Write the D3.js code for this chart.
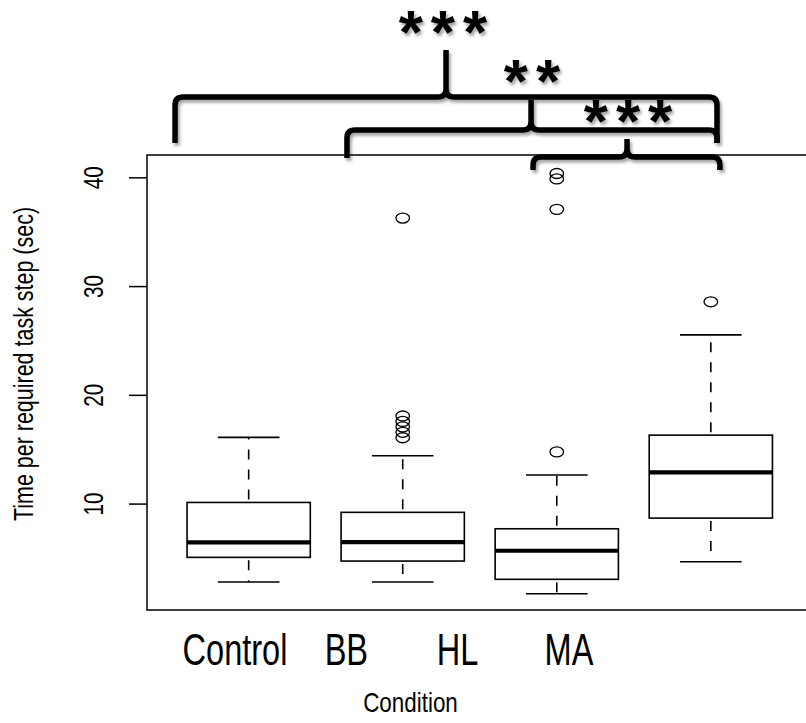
<!DOCTYPE html>
<html>
<head>
<meta charset="utf-8">
<script src="https://cdn.jsdelivr.net/npm/d3@7"></script>
<style>
  html, body { margin: 0; padding: 0; background: #fff; }
  svg { display: block; }
  text { font-family: "Liberation Sans", Arial, Helvetica, sans-serif; fill: #000; }
</style>
</head>
<body>
<svg id="chart" width="806" height="723"></svg>
<script>
// ---- data ----
const categories   = ["Control", "BB", "HL", "MA"];
const whiskerLow   = [2.83, 2.83, 1.76, 4.70];
const q1           = [5.10, 4.76, 3.08, 8.71];
const median       = [6.48, 6.51, 5.71, 12.91];
const q3           = [10.15, 9.24, 7.73, 16.34];
const whiskerHigh  = [16.13, 14.44, 12.67, 25.56];
const outliers     = [[], [16.1, 16.6, 17.1, 17.6, 18.1, 36.3], [14.8, 37.1, 39.9, 40.4], [28.6]];
const yTicks       = [10, 20, 30, 40];
const yLabel       = "Time per required task step (sec)";
const xLabel       = "Condition";
// significance braces (in category-index / value units)
const braceFrom    = [0.522, 1.638, 2.846];
const braceTo      = [4.040, 4.040, 4.059];
const braceTip     = [2.281, 2.833, 3.456];
const braceLevel   = [47.43, 44.40, 41.92];
const braceTipTop  = [51.76, 47.16, 43.57];
const braceEndL    = [43.20, 41.82, 40.72];
const braceEndR    = [43.20, 43.20, 40.72];
const braceStars   = ["***", "**", "***"];
const starX        = [2.261, 2.839, 3.462];
const starBase     = [51.50, 47.00, 43.30];

// ---- layout ----
const svg = d3.select("#chart");
const plot = { left: 147, top: 155, bottom: 610 };
const x = d3.scaleLinear().domain([0.34, 4.66]).range([plot.left, 812.5]);
const y = d3.scaleLinear().domain([0.26, 42.1]).range([plot.bottom, plot.top]);
const labelX = d3.scalePoint().domain(categories).range([235, 569]);
const boxW = x(1.8) - x(1.0);
const capW = x(1.4) - x(1.0);

const defs = svg.append("defs");
const f = defs.append("filter").attr("id", "shadow").attr("x", "-20%").attr("y", "-30%").attr("width", "140%").attr("height", "180%");
f.append("feDropShadow").attr("dx", 2).attr("dy", 3).attr("stdDeviation", 1.8)
  .attr("flood-color", "#000").attr("flood-opacity", 0.35);

// frame
const g = svg.append("g");
g.append("rect")
  .attr("x", plot.left).attr("y", plot.top)
  .attr("width", x(4.66) - plot.left).attr("height", plot.bottom - plot.top)
  .attr("fill", "none").attr("stroke", "#000").attr("stroke-width", 1.5);

// y axis ticks
g.selectAll(".ytick").data(yTicks).join("line").attr("class", "ytick")
  .attr("x1", plot.left - 18).attr("x2", plot.left)
  .attr("y1", d => y(d)).attr("y2", d => y(d))
  .attr("stroke", "#000").attr("stroke-width", 1.5);
g.selectAll(".ylab").data(yTicks).join("g").attr("class", "ylab")
  .attr("transform", d => `translate(103,${y(d)}) rotate(-90) scale(0.74,1)`)
  .append("text").attr("text-anchor", "middle").attr("font-size", 28).text(d => d);

// y label
svg.append("g").attr("transform", "translate(33,364) rotate(-90) scale(0.767,1)")
  .append("text").attr("text-anchor", "middle").attr("font-size", 28).text(yLabel);

// category labels
svg.selectAll(".cat").data(categories).join("g").attr("class", "cat")
  .attr("transform", d => `translate(${labelX(d)},665) scale(0.74,1)`)
  .append("text").attr("text-anchor", "middle").attr("font-size", 44).text(d => d);

// x label
svg.append("g").attr("transform", "translate(410.5,712) scale(0.83,1)")
  .append("text").attr("text-anchor", "middle").attr("font-size", 27).text(xLabel);

// boxes
const idx = d3.range(categories.length);
const bx = g.selectAll(".box").data(idx).join("g").attr("class", "box");
bx.append("line").attr("x1", i => x(i + 1)).attr("x2", i => x(i + 1))
  .attr("y1", i => y(q3[i])).attr("y2", i => y(whiskerHigh[i]))
  .attr("stroke", "#000").attr("stroke-width", 1.6).attr("stroke-dasharray", "10,10").attr("stroke-dashoffset", -3);
bx.append("line").attr("x1", i => x(i + 1)).attr("x2", i => x(i + 1))
  .attr("y1", i => y(q1[i])).attr("y2", i => y(whiskerLow[i]))
  .attr("stroke", "#000").attr("stroke-width", 1.6).attr("stroke-dasharray", "10,10").attr("stroke-dashoffset", -3);
[whiskerHigh, whiskerLow].forEach(arr => {
  bx.append("line").attr("x1", i => x(i + 1) - capW / 2).attr("x2", i => x(i + 1) + capW / 2)
    .attr("y1", i => y(arr[i])).attr("y2", i => y(arr[i]))
    .attr("stroke", "#000").attr("stroke-width", 1.6);
});
bx.append("rect").attr("x", i => x(i + 1) - boxW / 2).attr("width", boxW)
  .attr("y", i => y(q3[i])).attr("height", i => y(q1[i]) - y(q3[i]))
  .attr("fill", "#fff").attr("stroke", "#000").attr("stroke-width", 1.6);
bx.append("line").attr("x1", i => x(i + 1) - boxW / 2).attr("x2", i => x(i + 1) + boxW / 2)
  .attr("y1", i => y(median[i])).attr("y2", i => y(median[i]))
  .attr("stroke", "#000").attr("stroke-width", 4.2);
const pts = [];
outliers.forEach((arr, i) => arr.forEach(v => pts.push({ i, v })));
g.selectAll(".out").data(pts).join("ellipse").attr("class", "out")
  .attr("cx", d => x(d.i + 1)).attr("cy", d => y(d.v))
  .attr("rx", 6.8).attr("ry", 5)
  .attr("fill", "none").attr("stroke", "#000").attr("stroke-width", 1.3);

// braces
const r = 8;
function bracePath(i) {
  const x1 = x(braceFrom[i]), x2 = x(braceTo[i]), xm = x(braceTip[i]);
  const yh = y(braceLevel[i]), yt = y(braceTipTop[i]);
  const yl = y(braceEndL[i]), yr = y(braceEndR[i]);
  const p = d3.path();
  p.moveTo(x1, yl);
  p.lineTo(x1, yh + r);
  p.quadraticCurveTo(x1, yh, x1 + r, yh);
  p.lineTo(xm - r, yh);
  p.quadraticCurveTo(xm, yh, xm, yh - r);
  p.lineTo(xm, yt);
  p.moveTo(xm, yh - r);
  p.quadraticCurveTo(xm, yh, xm + r, yh);
  p.lineTo(x2 - r, yh);
  p.quadraticCurveTo(x2, yh, x2, yh + r);
  p.lineTo(x2, yr);
  return p.toString();
}
const br = svg.append("g").attr("filter", "url(#shadow)");
br.selectAll(".brace").data(idx.slice(0, 3)).join("path").attr("class", "brace")
  .attr("d", bracePath)
  .attr("fill", "none").attr("stroke", "#000").attr("stroke-width", 5.5)
  .attr("stroke-linejoin", "round");

// stars
svg.append("g").attr("filter", "url(#shadow)")
  .selectAll(".star").data(idx.slice(0, 3)).join("text").attr("class", "star")
  .attr("x", i => x(starX[i]) + 4).attr("y", i => y(starBase[i]))
  .attr("text-anchor", "middle").attr("font-size", 62).attr("font-weight", "bold")
  .attr("letter-spacing", 8)
  .text(i => braceStars[i]);
</script>
</body>
</html>
